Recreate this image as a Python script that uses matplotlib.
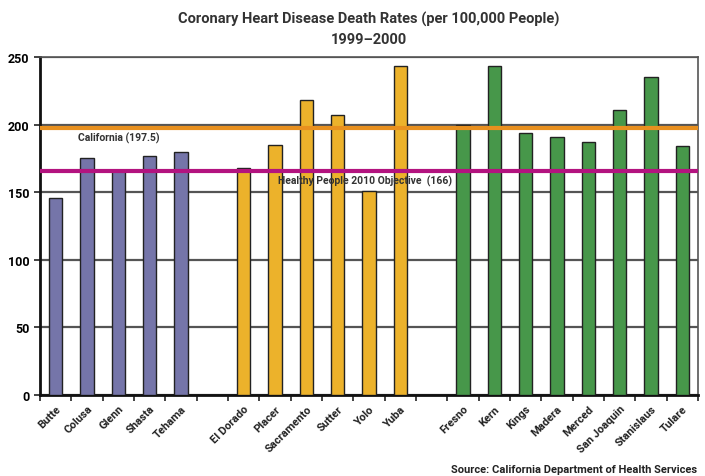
import matplotlib
matplotlib.use("Agg")
import matplotlib.pyplot as plt
import numpy as np

plt.rcParams["font.family"] = ["Roboto", "DejaVu Sans"]

# three regional groups of counties
north = ["Butte", "Colusa", "Glenn", "Shasta", "Tehama"]
north_vals = [146, 175, 166, 177, 180]
sac = ["El Dorado", "Placer", "Sacramento", "Sutter", "Yolo", "Yuba"]
sac_vals = [168, 185, 218, 207, 151, 243]
valley = ["Fresno", "Kern", "Kings", "Madera", "Merced", "San Joaquin",
          "Stanislaus", "Tulare"]
valley_vals = [200, 243, 194, 191, 187, 211, 235, 184]

CA_RATE = 197.5
HP2010 = 166

COLORS = ["#7575a9", "#ecb22b", "#47974a"]

fig = plt.figure(figsize=(7.05, 4.77), dpi=100)
ax = fig.add_axes([40 / 705, 81 / 477, 658 / 705, 338 / 477])

labels, pos = [], []
x = 0
for names_, vals, col in [(north, north_vals, COLORS[0]),
                          (sac, sac_vals, COLORS[1]),
                          (valley, valley_vals, COLORS[2])]:
    xs = np.arange(x, x + len(vals))
    ax.bar(xs, vals, width=0.42, color=col, edgecolor="#222222", lw=1.0,
           zorder=3)
    labels += names_
    pos += list(xs)
    x += len(vals) + 1
nslots = x - 1

ax.set_xlim(-0.5, nslots - 0.5)
ax.set_ylim(0, 250)
ax.set_yticks([0, 50, 100, 150, 200, 250])
ax.grid(axis="y", color="#555555", lw=1.6, zorder=1)
ax.set_xticks(pos)
ax.set_xticklabels(labels, rotation=45, ha="right", rotation_mode="anchor",
                   fontsize=8, fontweight="bold", color="#222222")
ax.tick_params(axis="x", length=0, pad=6)
ax.set_xticks(np.arange(-0.5, nslots, 1.0), minor=True)
ax.tick_params(axis="x", which="minor", length=4, width=1.2, color="#222222")
ax.tick_params(axis="y", length=4, width=1.2, labelsize=9, color="#222222")
for t in ax.get_yticklabels():
    t.set_fontweight("bold")

ax.axhline(CA_RATE, color="#e8901f", lw=3, zorder=4)
ax.axhline(HP2010, color="#b3137f", lw=3, zorder=4)
ax.text(0.7, CA_RATE - 7, "California (197.5)", fontsize=7.5,
        fontweight="bold", color="#333333", va="center", ha="left", zorder=5)
ax.text(7.1, HP2010 - 7, "Healthy People 2010 Objective  (166)", fontsize=7.5,
        fontweight="bold", color="#333333", va="center", ha="left", zorder=5)

for s in ["left", "bottom"]:
    ax.spines[s].set_linewidth(2)
    ax.spines[s].set_color("#111111")
for s in ["top", "right"]:
    ax.spines[s].set_linewidth(1.2)
    ax.spines[s].set_color("#555555")

fig.text(369 / 705, 1 - 19 / 477, "Coronary Heart Disease Death Rates (per 100,000 People)",
         ha="center", va="center", fontsize=10.5, fontweight="bold", color="#333333")
fig.text(369 / 705, 1 - 40 / 477, "1999\u20132000",
         ha="center", va="center", fontsize=10.5, fontweight="bold", color="#333333")
fig.text(697 / 705, 1 - 470 / 477, "Source: California Department of Health Services",
         ha="right", va="center", fontsize=8, fontweight="bold", color="#222222")

fig.savefig("out.png", dpi=100)
